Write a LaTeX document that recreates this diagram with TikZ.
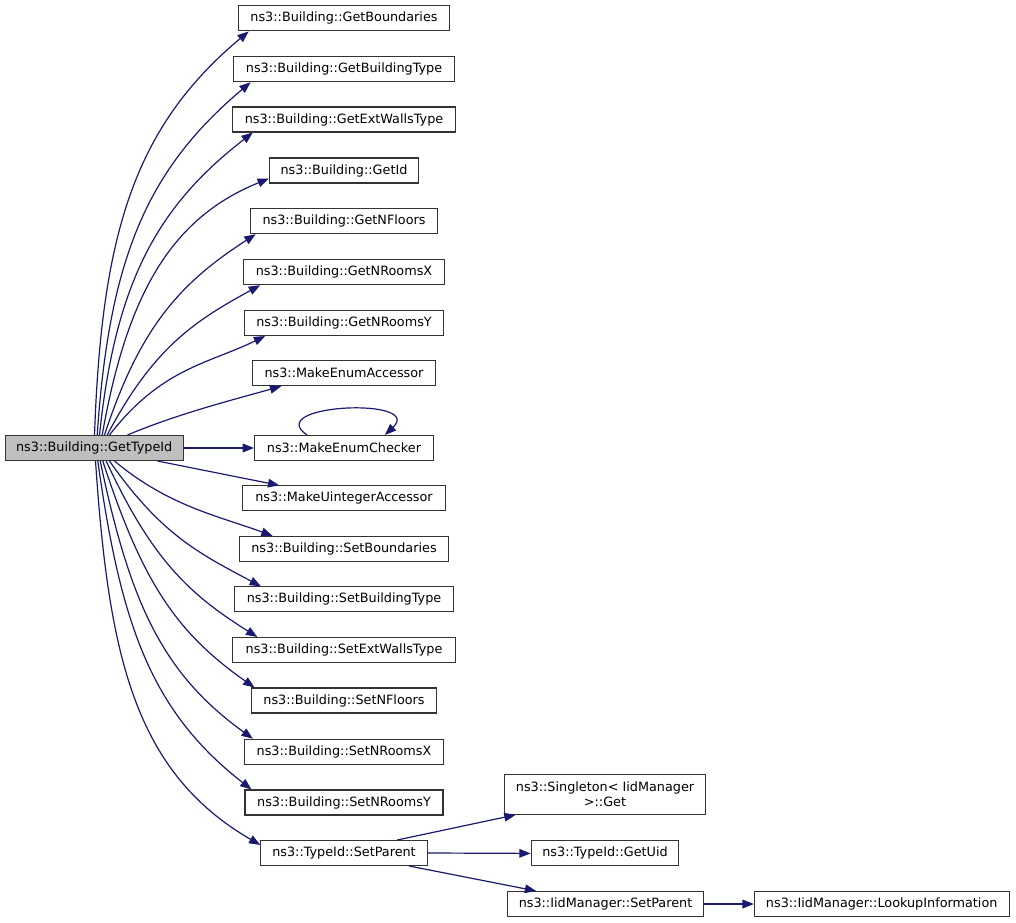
\documentclass[tikz,border=0pt]{standalone}
\usepackage{fontspec}
\setmainfont{DejaVu Sans}
\usetikzlibrary{calc,arrows.meta}
\definecolor{edgeblue}{HTML}{191970}
\definecolor{maingray}{HTML}{BFBFBF}
\tikzset {>={Triangle[length=8.5pt,width=6.5pt]}}
\tikzset{
  fnbox/.style={draw=black!80, line width=0.8pt, fill=white, inner sep=0pt,
    minimum height=18.75pt, font=\fontsize{9.6}{11.5}\selectfont},
  boxw/.style={minimum width=#1*0.75pt},
  callarrow/.style={draw=edgeblue, line width=0.9pt, ->}
}
\begin{document}
\begin{tikzpicture}[x=0.75pt,y=-0.75pt]
\useasboundingbox (0,0) rectangle (1016,923);
\node[fnbox,boxw=178.3,fill=maingray] (main) at (94.2,448) {ns3::Building::GetTypeId};
\node[fnbox,boxw=210.5] (gbd) at (344,18.4) {ns3::Building::GetBoundaries};
\node[fnbox,boxw=220.7] (gbt) at (344,69.2) {ns3::Building::GetBuildingType};
\node[fnbox,boxw=223.4] (gew) at (344,119.5) {ns3::Building::GetExtWallsType};
\node[fnbox,boxw=149] (gid) at (344,170.5) {ns3::Building::GetId};
\node[fnbox,boxw=186.6] (gnf) at (344,221.2) {ns3::Building::GetNFloors};
\node[fnbox,boxw=200.7] (gnx) at (344,272.2) {ns3::Building::GetNRoomsX};
\node[fnbox,boxw=198.6] (gny) at (344,323) {ns3::Building::GetNRoomsY};
\node[fnbox,boxw=182.4] (mea) at (344,373.2) {ns3::MakeEnumAccessor};
\node[fnbox,boxw=179] (mec) at (344,448) {ns3::MakeEnumChecker};
\node[fnbox,boxw=202.3] (mua) at (344,498.4) {ns3::MakeUintegerAccessor};
\node[fnbox,boxw=209.7] (sbd) at (344,548.9) {ns3::Building::SetBoundaries};
\node[fnbox,boxw=219] (sbt) at (344,599.4) {ns3::Building::SetBuildingType};
\node[fnbox,boxw=222.3] (sew) at (344,650) {ns3::Building::SetExtWallsType};
\node[fnbox,boxw=185] (snf) at (344,700.5) {ns3::Building::SetNFloors};
\node[fnbox,boxw=199.3] (snx) at (344,751.7) {ns3::Building::SetNRoomsX};
\node[fnbox,boxw=198] (sny) at (344,802.5) {ns3::Building::SetNRoomsY};
\node[fnbox,boxw=166.3] (tsp) at (344,853) {ns3::TypeId::SetParent};
\node[fnbox,boxw=201.7,minimum height=29.7pt,align=center] (sgt) at (605,794.5) {ns3::Singleton< IidManager\\ >::Get};
\node[fnbox,boxw=147.7] (uid) at (605,853.4) {ns3::TypeId::GetUid};
\node[fnbox,boxw=195.6] (isp) at (605.5,904) {ns3::IidManager::SetParent};
\node[fnbox,boxw=254.7] (lki) at (881.7,904) {ns3::IidManager::LookupInformation};

\draw[callarrow] ($(main.north west)+(90,0)$) .. controls +(7,-200) and +(-115,96) .. ($(gbd.south west)+(10.5,0)$);
\draw[callarrow] ($(main.north west)+(92.7,0)$) .. controls +(12,-178) and +(-103,87) .. ($(gbt.south west)+(17.5,0)$);
\draw[callarrow] ($(main.north west)+(95,0)$) .. controls +(16,-155) and +(-94,73) .. ($(gew.south west)+(21,0)$);
\draw[callarrow] ($(main.north west)+(97.7,0)$) .. controls +(24.5,-139) and +(-99,40) .. ($(gid.south west)+(0,-5)$);
\draw[callarrow] ($(main.north west)+(100,0)$) .. controls +(36,-110) and +(-74,48) .. ($(gnf.south west)+(5.5,0)$);
\draw[callarrow] ($(main.north west)+(102.7,0)$) .. controls +(46,-87) and +(-66,36) .. ($(gnx.south west)+(17,0)$);
\draw[callarrow] ($(main.north west)+(105,0)$) .. controls +(52,-67) and +(-57.5,28) .. ($(gny.south west)+(21,0)$);
\draw[callarrow] ($(main.north west)+(123,0)$) .. controls +(50,-21) and +(-50,14) .. ($(mea.south west)+(29,0)$);
\draw[callarrow] (main.east) -- (mec.west);
\draw[callarrow] ($(mec.north west)+(53,0)$) .. controls +(-45,-31) and +(40,-38) .. ($(mec.north west)+(131,0)$);
\draw[callarrow] ($(main.south west)+(153,0)$) -- ($(mua.north west)+(37,0)$);
\draw[callarrow] ($(main.south west)+(110,0)$) .. controls +(54,45) and +(-56,-20.5) .. ($(sbd.north west)+(34,0)$);
\draw[callarrow] ($(main.south west)+(105,0)$) .. controls +(51.6,73.7) and +(-61.8,-32.9) .. ($(sbt.north west)+(27,0)$);
\draw[callarrow] ($(main.south west)+(101.7,0)$) .. controls +(45,97) and +(-69.5,-43.5) .. ($(sew.north west)+(25,0)$);
\draw[callarrow] ($(main.south west)+(98.3,0)$) .. controls +(39,120) and +(-78.6,-55) .. ($(snf.north west)+(3.5,0)$);
\draw[callarrow] ($(main.south west)+(95.7,0)$) .. controls +(30,143) and +(-90,-65) .. ($(snx.north west)+(9,0)$);
\draw[callarrow] ($(main.south west)+(93.3,0)$) .. controls +(23,165) and +(-100,-78) .. ($(sny.north west)+(7,0)$);
\draw[callarrow] ($(main.south west)+(91,0)$) .. controls +(13,192) and +(-127,-73.5) .. ($(tsp.north west)+(0,5)$);
\draw[callarrow] ($(tsp.north west)+(137,0)$) -- ($(sgt.south west)+(12,0)$);
\draw[callarrow] (tsp.east) -- (uid.west);
\draw[callarrow] ($(tsp.south west)+(149,0)$) -- ($(isp.north west)+(29,0)$);
\draw[callarrow] (isp.east) -- (lki.west);
\end{tikzpicture}
\end{document}
